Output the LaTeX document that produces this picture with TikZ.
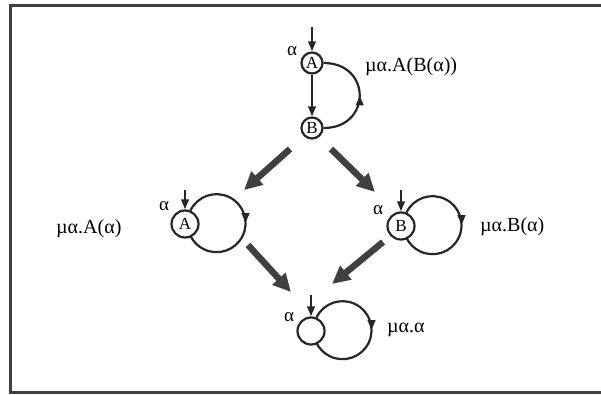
\documentclass[tikz,border=0pt]{standalone}
\usepackage{fontspec}
\setmainfont{Liberation Serif}
\usetikzlibrary{arrows.meta,decorations.markings,positioning}
\tikzset{
>={Triangle[length=10pt,width=7.5pt]},
  statecirc/.style={
    circle,
    draw=black!85, line width=2.2pt,
    inner sep=0pt,
    minimum size=21pt,
    font=\fontsize{17}{17}\selectfont},
  bigstate/.style={statecirc, minimum size=27pt},
  line/.style={draw=black!85, line width=2.2pt, ->},
  selfloop/.style={
    draw=black!85, line width=2.2pt,
    postaction={decorate},
    decoration={markings, mark=at position 0.5 with {\arrow{>}}}},
  heavy/.style={draw=black!75, line width=6.5pt,
    -{Triangle[length=18pt,width=17pt]}},
  term/.style={anchor=west, inner sep=0pt, font=\fontsize{20}{20}\selectfont},
  alphalbl/.style={inner sep=0pt, font=\fontsize{19}{19}\selectfont},
  frame/.style={draw=black!75, line width=3pt},
}

\begin{document}
\begin{tikzpicture}[x=1pt, y=1pt]
\useasboundingbox (0,0) rectangle (601,394);
\draw[frame] (603,388) -- (10,388) -- (10,2) -- (603,2);

% states
\node[statecirc] (A1) at (312,331) {A};
\node[statecirc] (B1) at (312,266) {B};
\node[bigstate] (A2) at (185,170) {A};
\node[bigstate] (B2) at (401,168) {B};
\node[bigstate] (C) at (311,63) {};

% entry arrows
\coordinate (A1-in) at (312,367);
\coordinate (A2-in) at (185,204);
\coordinate (B2-in) at (401,204);
\coordinate (C-in) at (311,99);
\draw[line] (A1-in) -- (A1);
\draw[line] (A2-in) -- (A2);
\draw[line] (B2-in) -- (B2);
\draw[line] (C-in) -- (C);

\node[alphalbl] (A1-a) at (292,343) {α};
\node[alphalbl] (A2-a) at (164,188) {α};
\node[alphalbl] (B2-a) at (378,184) {α};
\node[alphalbl] (C-a) at (289,77) {α};

% transitions
\draw[line] (A1) -- (B1);
\draw[selfloop] (B1.east) to[out=0, in=0, looseness=1.9] (A1.east);
\draw[selfloop] (A2.68) arc[start angle=154, end angle=-154, radius=29pt];
\draw[selfloop] (B2.68) arc[start angle=154, end angle=-154, radius=29pt];
\draw[selfloop] (C.68) arc[start angle=154, end angle=-154, radius=29pt];

% terms
\node[term] (t-top) at (365,327) {µα.A(B(α))};
\node[term] (t-left) at (56,165) {µα.A(α)};
\node[term] (t-right) at (480,167) {µα.B(α)};
\node[term] (t-bot) at (387,64) {µα.α};

% reductions
\coordinate (split-l) at (290,245);
\coordinate (split-r) at (331,245);
\coordinate (left-in) at (244,204);
\coordinate (right-in) at (375,202);
\coordinate (left-out) at (248,149);
\coordinate (right-out) at (383,152);
\coordinate (join-l) at (291,102);
\coordinate (join-r) at (332,110);
\draw[heavy] (split-l) -- (left-in);
\draw[heavy] (split-r) -- (right-in);
\draw[heavy] (left-out) -- (join-l);
\draw[heavy] (right-out) -- (join-r);
\end{tikzpicture}
\end{document}
